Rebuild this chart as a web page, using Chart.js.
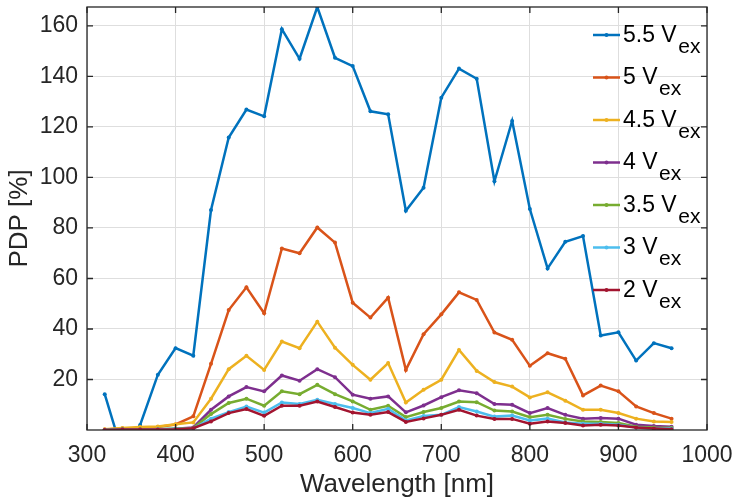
<!DOCTYPE html>
<html>
<head>
<meta charset="utf-8">
<title>PDP vs wavelength</title>
<script src="https://cdn.jsdelivr.net/npm/chart.js@4.4.0/dist/chart.umd.min.js"></script>
<style>
  body { margin: 0; background: #fff; }
  #wrap { width: 737px; height: 500px; position: relative; }
</style>
</head>
<body>
<div id="wrap"><canvas id="pdpChart"></canvas></div>
<script>
// Wavelength samples [nm]
const wavelengths = [320, 340, 360, 380, 400, 420, 440, 460, 480, 500, 520, 540, 560, 580, 600, 620, 640,
                     660, 680, 700, 720, 740, 760, 780, 800, 820, 840, 860, 880, 900, 920, 940, 960];

// PDP [%] per excess bias
const pdp55 = [14.2, -9, 2, 21.9, 32.4, 29.4, 87.1, 115.8, 126.9, 124.2, 158.7, 147, 167.5, 147.4, 144.1, 126.2, 125,
               86.8, 95.9, 131.6, 143.1, 139.1, 98.5, 122.4, 87.5, 64, 74.5, 76.8, 37.4, 38.7, 27.5, 34.4, 32.4];
const pdp50 = [0.2, 0.6, 0.8, 1.2, 2.2, 5.4, 26.2, 47.5, 56.5, 46.2, 71.9, 70, 80.2, 74.2, 50.4, 44.5, 52.4,
               23.8, 37.9, 45.8, 54.5, 51.5, 38.6, 35.7, 25.4, 30.4, 28.2, 13.7, 17.6, 15.3, 9.3, 6.7, 4.5];
const pdp45 = [0.3, 0.8, 1.2, 1.4, 2.3, 3, 12.4, 24.1, 29.4, 23.8, 35, 32.4, 42.9, 32.6, 25.8, 19.9, 26.5,
               10.9, 15.9, 19.9, 31.7, 23.4, 19, 17.2, 12.9, 14.9, 11.6, 8, 8, 6.7, 4.5, 3.4, 3.2];
const pdp40 = [0, 0.3, 0, -0.3, 0.5, 1, 8, 13.3, 17, 15.3, 21.6, 19.5, 24.1, 20.9, 14, 12.4, 13.3,
               7, 9.7, 13, 15.7, 14.6, 10.3, 10, 6.7, 8.7, 6, 4.5, 4.8, 4.5, 2.1, 1.6, 1.3];
const pdp35 = [0, 0.3, 0.3, 0.3, 0.6, 0.8, 6.3, 10.7, 12.4, 9.6, 15.3, 14.2, 17.9, 14.2, 11.3, 8, 9.6,
               5.1, 7.1, 8.7, 11.3, 11, 7.7, 7.3, 5.1, 6, 4.4, 3.4, 3.2, 2.8, 1.3, 1, 0.9];
const pdp30 = [0, 0.2, 0.2, 0.3, 0.5, 0.6, 4.5, 7.1, 9.3, 6.9, 10.9, 10.3, 12, 10.3, 8.7, 6.7, 8.4,
               3.8, 5.5, 6, 9.1, 7.3, 5.3, 5.7, 3.8, 4.5, 3, 2.5, 2.5, 2.1, 1, 0.6, 0.6];
const pdp20 = [0, 0.2, 0.2, 0.2, 0.3, 0.7, 3.4, 6.7, 8.3, 5.6, 9.6, 9.6, 11.3, 9.1, 6.9, 6, 7.1,
               3.2, 4.6, 6, 8, 5.7, 4.4, 4.4, 2.5, 3.4, 2.8, 1.8, 2.1, 1.8, 1, 0.6, 0.3];

const voltages = ['5.5', '5', '4.5', '4', '3.5', '3', '2'];
const series = [pdp55, pdp50, pdp45, pdp40, pdp35, pdp30, pdp20];
const colors = ['#0072BD', '#D95319', '#EDB120', '#7E2F8E', '#77AC30', '#4DBEEE', '#A2142F'];

const xTicks = [300, 400, 500, 600, 700, 800, 900, 1000];
const yTicks = [20, 40, 60, 80, 100, 120, 140, 160];

const FONT = '"Liberation Sans", Arial, Helvetica, sans-serif';
const AXIS_COLOR = '#262626';

// box around the axes with inward ticks on all four sides
const axesFrame = {
    id: 'axesFrame',
    afterDatasetsDraw(chart) {
        const { ctx, chartArea: a, scales: { x, y } } = chart;
        const len = 6;
        ctx.save();
        ctx.strokeStyle = AXIS_COLOR;
        ctx.lineWidth = 1.3;
        ctx.strokeRect(a.left, a.top, a.width, a.height);
        ctx.beginPath();
        x.ticks.forEach(t => {
            const px = x.getPixelForValue(t.value);
            ctx.moveTo(px, a.bottom); ctx.lineTo(px, a.bottom - len);
            ctx.moveTo(px, a.top); ctx.lineTo(px, a.top + len);
        });
        y.ticks.forEach(t => {
            const py = y.getPixelForValue(t.value);
            ctx.moveTo(a.left, py); ctx.lineTo(a.left + len, py);
            ctx.moveTo(a.right, py); ctx.lineTo(a.right - len, py);
        });
        ctx.stroke();
        ctx.restore();
    }
};

// legend inside the axes, with "ex" as a subscript
const subLegend = {
    id: 'subLegend',
    afterDraw(chart) {
        const { ctx, chartArea: a } = chart;
        const x0 = a.right - 114;
        const y0 = a.top + 28;
        const rowGap = 42.5;
        chart.data.datasets.forEach((ds, i) => {
            const y = y0 + i * rowGap;
            ctx.save();
            ctx.strokeStyle = ds.borderColor;
            ctx.lineWidth = 2.5;
            ctx.beginPath();
            ctx.moveTo(x0, y);
            ctx.lineTo(x0 + 27, y);
            ctx.stroke();
            ctx.fillStyle = ds.borderColor;
            ctx.beginPath();
            ctx.arc(x0 + 13.5, y, 2, 0, 2 * Math.PI);
            ctx.fill();

            ctx.fillStyle = '#000';
            ctx.textBaseline = 'alphabetic';
            ctx.textAlign = 'left';
            ctx.font = '23px ' + FONT;
            const main = voltages[i] + ' V';
            ctx.fillText(main, x0 + 30, y + 6.5);
            const w = ctx.measureText(main).width;
            ctx.font = '21px ' + FONT;
            ctx.fillText('ex', x0 + 30 + w + 1.5, y + 17.5);
            ctx.restore();
        });
    }
};

const datasets = series.map((vals, i) => ({
    label: voltages[i] + ' Vex',
    data: wavelengths.map((w, j) => ({ x: w, y: vals[j] })),
    borderColor: colors[i],
    backgroundColor: colors[i],
    borderWidth: 2.5,
    pointRadius: 2,
    pointBorderWidth: 0,
    pointBackgroundColor: colors[i],
    order: series.length - 1 - i,   // lowest curve drawn last, like the original
    clip: 0
}));

new Chart(document.getElementById('pdpChart'), {
    type: 'line',
    data: { datasets },
    options: {
        responsive: true,
        maintainAspectRatio: false,
        devicePixelRatio: 1,
        animation: false,
        layout: { padding: { left: 0, right: 30, top: 7, bottom: 0 } },
        plugins: {
            legend: { display: false },
            tooltip: { enabled: false }
        },
        scales: {
            x: {
                type: 'linear',
                min: 300,
                max: 1000,
                afterBuildTicks: s => { s.ticks = xTicks.map(v => ({ value: v })); },
                afterFit: s => { s.height = 70; s.paddingLeft = 0; s.paddingRight = 0; },
                grid: { color: '#dedede', lineWidth: 1, drawTicks: false },
                border: { display: false },
                ticks: {
                    padding: 12,
                    color: AXIS_COLOR,
                    font: { family: FONT, size: 23 },
                    maxRotation: 0,
                    callback: v => String(v)
                },
                title: {
                    display: true,
                    text: 'Wavelength [nm]',
                    color: AXIS_COLOR,
                    font: { family: FONT, size: 26 },
                    padding: { top: 0, bottom: 0 }
                }
            },
            y: {
                min: 0,
                max: 167.5,
                afterBuildTicks: s => { s.ticks = yTicks.map(v => ({ value: v })); },
                afterFit: s => { s.width = 87; s.paddingTop = 0; s.paddingBottom = 0; },
                grid: { color: '#dedede', lineWidth: 1, drawTicks: false },
                border: { display: false },
                ticks: {
                    padding: 9,
                    color: AXIS_COLOR,
                    font: { family: FONT, size: 23 },
                    callback: v => String(v)
                },
                title: {
                    display: true,
                    text: 'PDP [%]',
                    color: AXIS_COLOR,
                    font: { family: FONT, size: 26 },
                    padding: { top: 4, bottom: 0 }
                }
            }
        }
    },
    plugins: [axesFrame, subLegend]
});
</script>
</body>
</html>
